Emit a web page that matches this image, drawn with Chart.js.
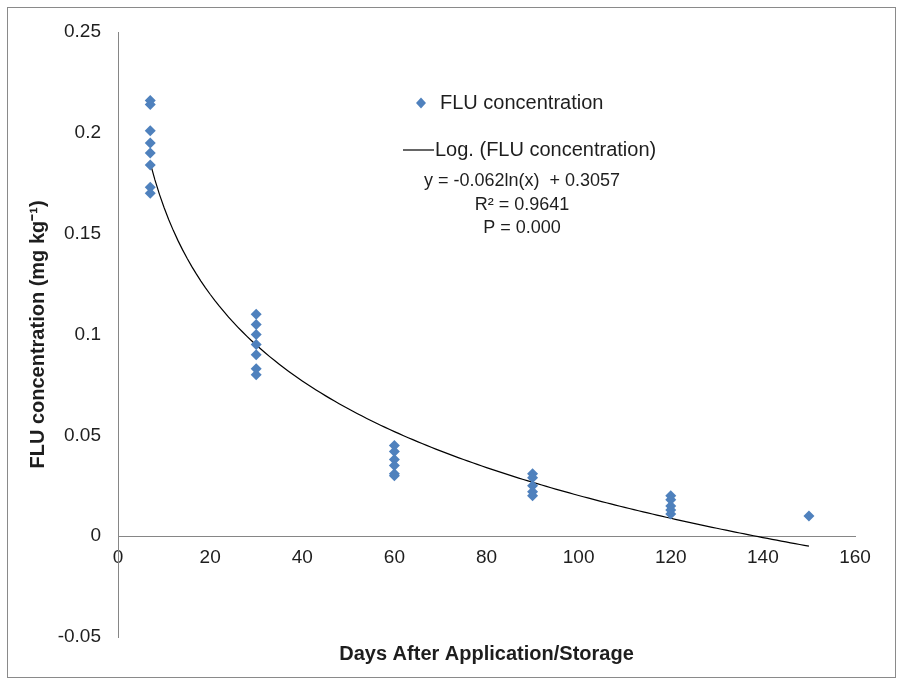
<!DOCTYPE html>
<html>
<head>
<meta charset="utf-8">
<script src="https://cdn.jsdelivr.net/npm/chart.js@4/dist/chart.umd.min.js"></script>
<style>
  html, body { margin: 0; padding: 0; background: #fff; }
  #wrap { position: relative; width: 898px; height: 681px; }
  #wrap canvas { position: absolute; left: 0; top: 0; }
  #frame { position: absolute; left: 7px; top: 7px; width: 887px; height: 669px; border: 1px solid #8a8a8a; pointer-events: none; }
</style>
</head>
<body>
<div id="wrap">
  <canvas id="chart" width="898" height="681"></canvas>
  <div id="frame"></div>
</div>
<script>
// measured samples (days after application, mg/kg)
const sampleDays = [7, 7, 7, 7, 7, 7, 7, 7,
                    30, 30, 30, 30, 30, 30, 30,
                    60, 60, 60, 60, 60, 60,
                    90, 90, 90, 90, 90,
                    120, 120, 120, 120, 120,
                    150];
const fluConc = [0.216, 0.214, 0.201, 0.195, 0.190, 0.184, 0.173, 0.170,
                 0.110, 0.105, 0.100, 0.095, 0.090, 0.083, 0.080,
                 0.045, 0.042, 0.038, 0.035, 0.031, 0.030,
                 0.031, 0.029, 0.025, 0.022, 0.020,
                 0.020, 0.018, 0.015, 0.013, 0.011,
                 0.010];

// fitted log trend shown on the chart: y = a ln(x) + b
const trendA = -0.062;
const trendB = 0.3057;
const trendFrom = 7;
const trendTo = 150;

const xTicks = [0, 20, 40, 60, 80, 100, 120, 140, 160];
const xTickLabels = ['0', '20', '40', '60', '80', '100', '120', '140', '160'];
const yTicks = [-0.05, 0, 0.05, 0.1, 0.15, 0.2, 0.25];
const yTickLabels = ['-0.05', '0', '0.05', '0.1', '0.15', '0.2', '0.25'];

const legendLines = ['y = -0.062ln(x)  + 0.3057', 'R\u00B2 = 0.9641', 'P = 0.000'];

const FONT = "'Liberation Sans', Arial, sans-serif";
const BLUE = '#4F81BD';
const AXIS = '#868686';
const TEXT = '#1e1e1e';

const scatterPts = sampleDays.map((d, i) => ({ x: d, y: fluConc[i] }));
const trendPts = [];
for (let d = trendFrom; d <= trendTo; d += 1) {
  trendPts.push({ x: d, y: trendA * Math.log(d) + trendB });
}

const legendPlugin = {
  id: 'inlineLegend',
  afterDraw(chart) {
    const ctx = chart.ctx;
    ctx.save();
    ctx.fillStyle = BLUE;
    ctx.beginPath();
    ctx.moveTo(421, 97.5);
    ctx.lineTo(426, 103);
    ctx.lineTo(421, 108.5);
    ctx.lineTo(416, 103);
    ctx.closePath();
    ctx.fill();

    ctx.fillStyle = TEXT;
    ctx.font = '20px ' + FONT;
    ctx.textBaseline = 'middle';
    ctx.textAlign = 'left';
    ctx.fillText('FLU concentration', 440, 103);

    ctx.strokeStyle = '#000';
    ctx.lineWidth = 1.2;
    ctx.beginPath();
    ctx.moveTo(403, 150);
    ctx.lineTo(434, 150);
    ctx.stroke();
    ctx.fillText('Log. (FLU concentration)', 435, 150);

    ctx.font = '18px ' + FONT;
    ctx.textAlign = 'center';
    ctx.fillText(legendLines[0], 522, 181);
    ctx.fillText(legendLines[1], 522, 205);
    ctx.fillText(legendLines[2], 522, 228);
    ctx.restore();
  }
};

new Chart(document.getElementById('chart').getContext('2d'), {
  type: 'scatter',
  data: {
    datasets: [
      {
        label: 'FLU concentration',
        data: scatterPts,
        pointStyle: 'rectRot',
        pointRadius: 5.5,
        pointHoverRadius: 5.5,
        backgroundColor: BLUE,
        borderColor: BLUE,
        borderWidth: 0
      },
      {
        type: 'line',
        label: 'Log. (FLU concentration)',
        data: trendPts,
        borderColor: '#000',
        borderWidth: 1.2,
        pointRadius: 0,
        fill: false,
        tension: 0
      }
    ]
  },
  options: {
    responsive: false,
    animation: false,
    layout: { padding: { left: 12, top: 32, right: 43, bottom: 10 } },
    plugins: {
      legend: { display: false },
      tooltip: { enabled: false },
      title: {
        display: true,
        position: 'bottom',
        fullSize: false,
        text: 'Days After Application/Storage',
        color: TEXT,
        font: { family: FONT, size: 20, weight: 'bold' },
        padding: { top: 5, bottom: 5 }
      }
    },
    scales: {
      x: {
        type: 'linear',
        position: { y: 0 },
        min: 0,
        max: 160,
        grid: { display: false, drawTicks: false },
        border: { display: true, color: AXIS, width: 1 },
        afterBuildTicks: s => { s.ticks = xTicks.map(v => ({ value: v })); },
        ticks: {
          color: TEXT,
          font: { family: FONT, size: 19 },
          padding: 10,
          maxRotation: 0,
          callback: (v, i) => xTickLabels[i]
        }
      },
      y: {
        type: 'linear',
        position: 'left',
        min: -0.05,
        max: 0.25,
        grid: { display: false, drawTicks: false },
        border: { display: true, color: AXIS, width: 1 },
        afterBuildTicks: s => { s.ticks = yTicks.map(v => ({ value: v })); },
        afterFit: s => { s.width = 106; },
        ticks: {
          color: TEXT,
          font: { family: FONT, size: 19 },
          padding: 17,
          callback: (v, i) => yTickLabels[i]
        },
        title: {
          display: true,
          text: 'FLU concentration (mg kg\u207B\u00B9)',
          color: TEXT,
          font: { family: FONT, size: 20, weight: 'bold' },
          padding: { top: 14, bottom: 0 }
        }
      }
    }
  },
  plugins: [legendPlugin]
});
</script>
</body>
</html>
